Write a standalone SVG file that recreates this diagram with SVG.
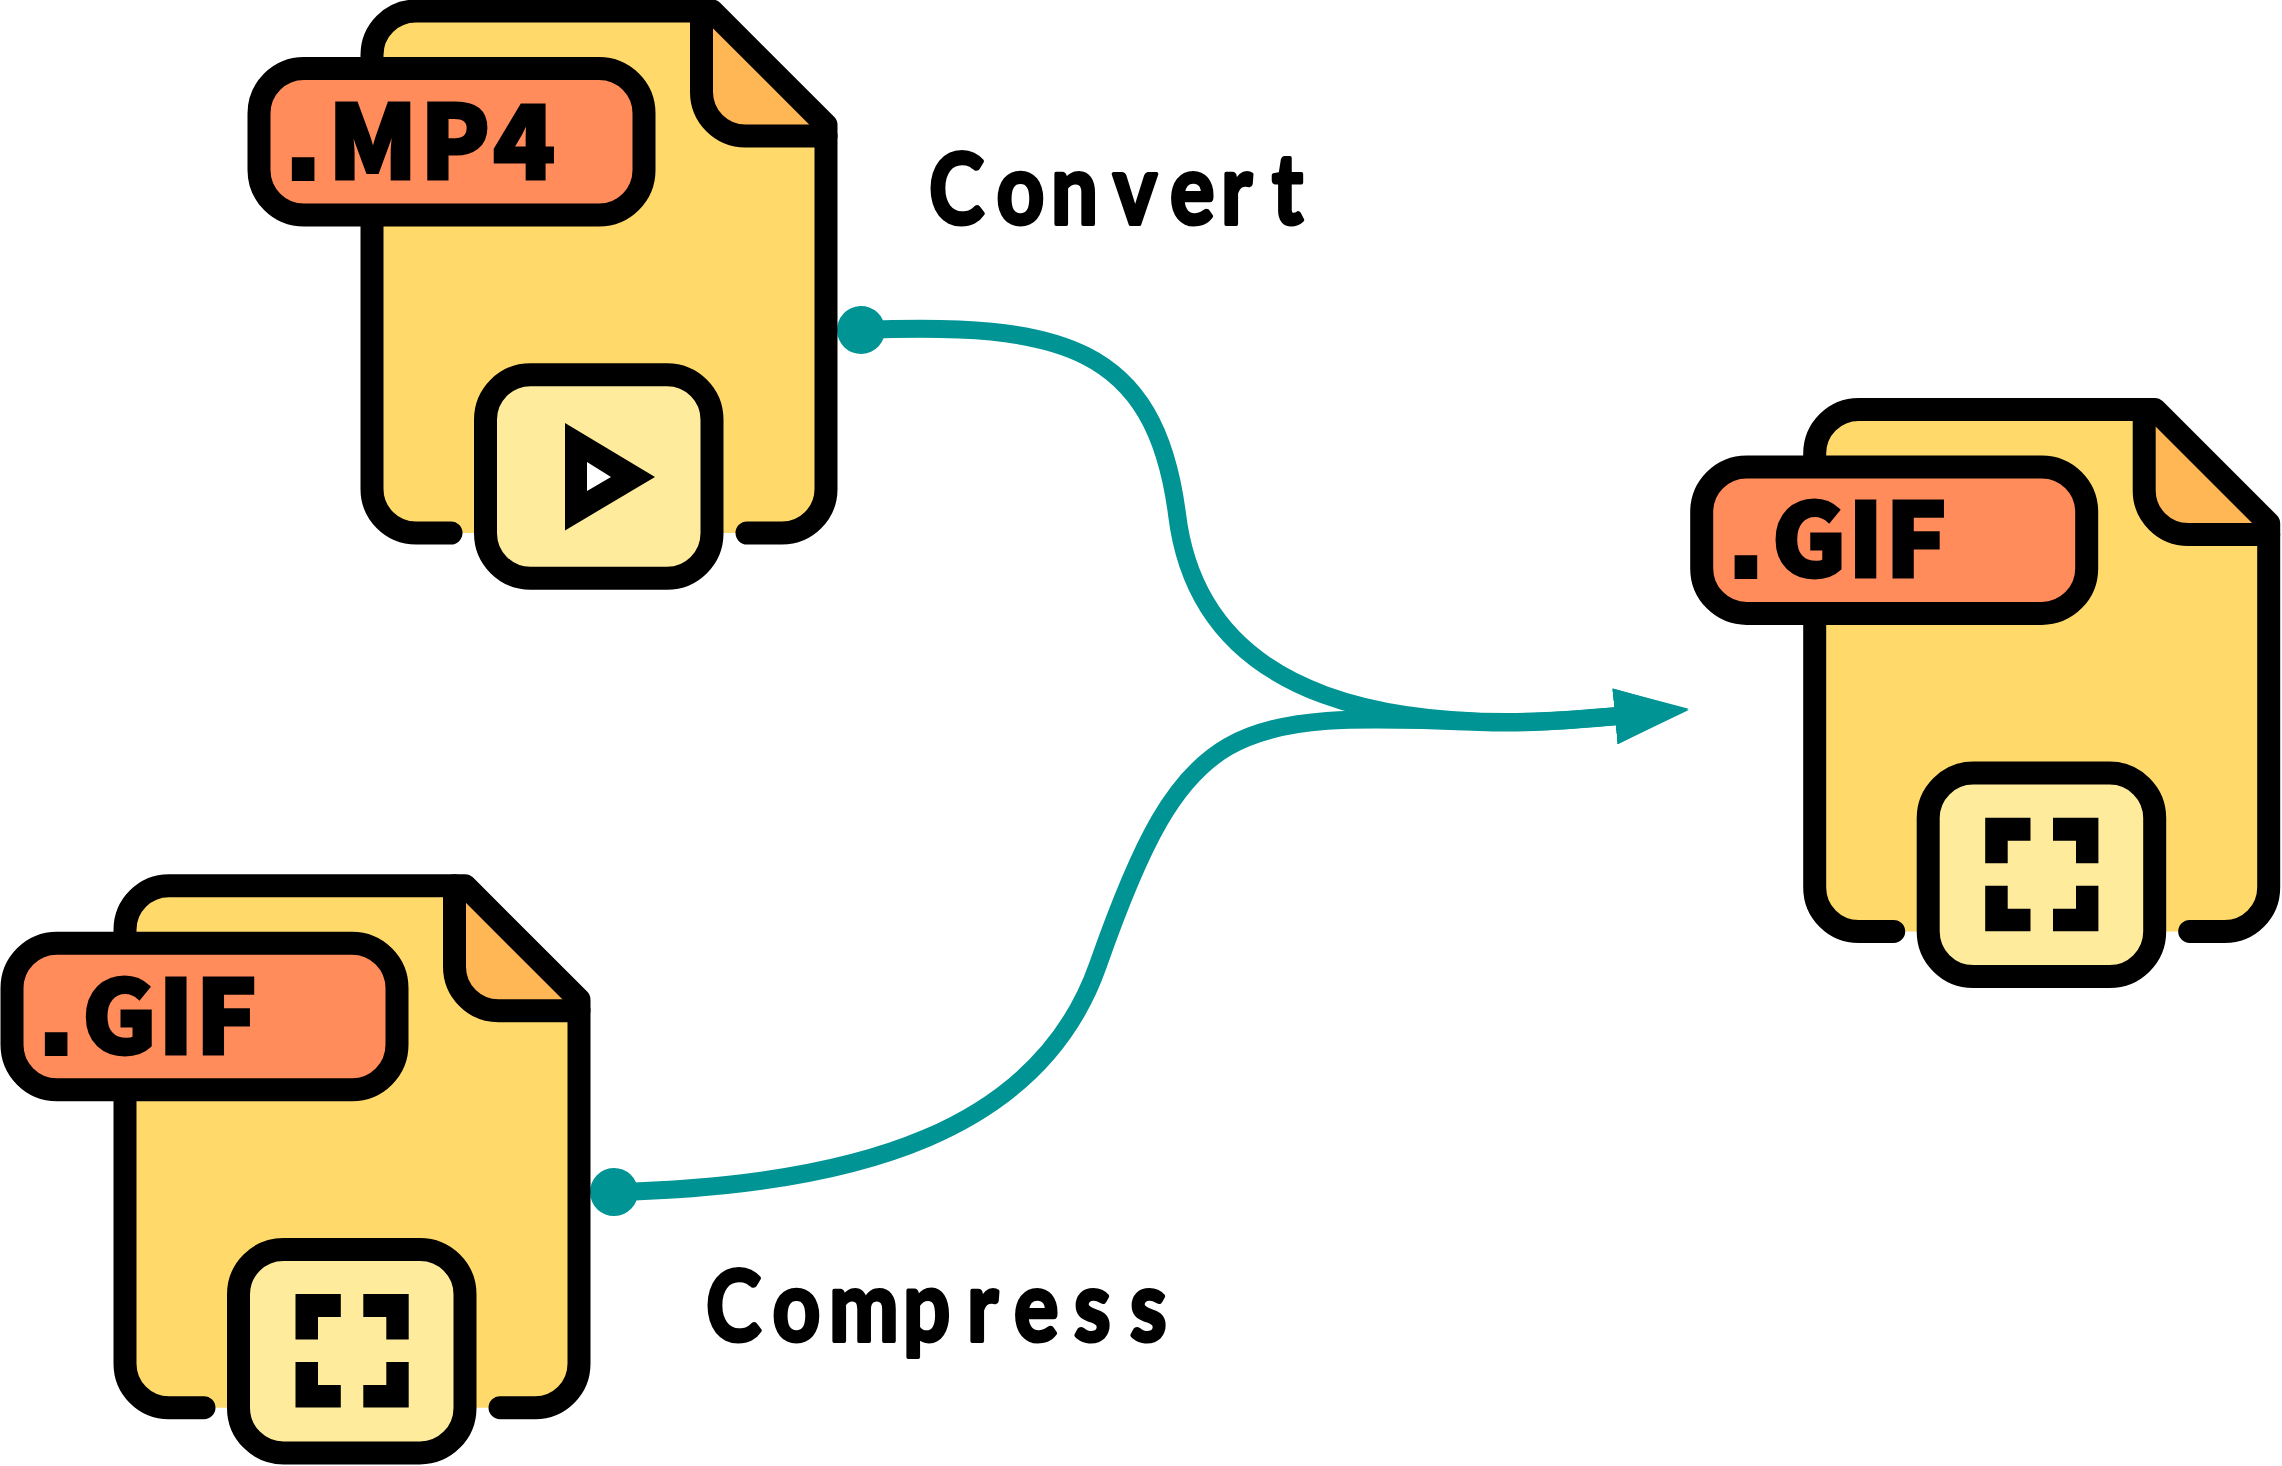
<svg xmlns="http://www.w3.org/2000/svg" xmlns:xlink="http://www.w3.org/1999/xlink" width="2282" height="1466" viewBox="0 0 2282 1466">
<style>
.body{fill:#FFDA6B}
.fold{fill:#FFB655}
.ln{fill:none;stroke:#000;stroke-width:23;stroke-linecap:round;stroke-linejoin:round}
.ext{font-family:"Noto Sans CJK SC","Noto Sans",sans-serif;font-weight:900;font-size:102px;fill:#000;stroke:#000;stroke-width:3}
.pt{font-family:"Liberation Sans",Arial,sans-serif;font-weight:700;font-size:160px;stroke:none}
.cap{font-family:"Lato","Noto Sans",sans-serif;font-weight:700;font-size:98px;fill:#000;stroke:#000;stroke-width:4;stroke-linejoin:round}
.conn{fill:none;stroke:#019494;stroke-width:18}
</style>
<defs>
<marker id="dot" markerUnits="userSpaceOnUse" markerWidth="50" markerHeight="50" refX="25" refY="25" orient="auto"><circle cx="25" cy="25" r="24" fill="#019494"/></marker>
<marker id="arrow" markerUnits="userSpaceOnUse" markerWidth="76" markerHeight="58" refX="3" refY="29" orient="auto"><polygon points="0,1 74,29 0,57" fill="#019494"/></marker>
<g id="file-base">
<path class="body" d="M451 533H416A44 44 0 0 1 372 489V55A44 44 0 0 1 416 11H712L826 125V489A44 44 0 0 1 782 533H747Z"/>
<path class="fold" d="M701.5 11V92A44 44 0 0 0 745.5 136H826L712 11Z"/>
<path class="ln" d="M451 533H416A44 44 0 0 1 372 489V55A44 44 0 0 1 416 11H712L826 125V489A44 44 0 0 1 782 533H747"/>
<path class="ln" d="M701.5 11V92A44 44 0 0 0 745.5 136H826"/>
<rect class="ln" style="fill:#FF8C5A" x="259" y="68.5" width="385" height="146.5" rx="45"/>
<rect class="ln" style="fill:#FFEB9C" x="485.5" y="374.7" width="226.5" height="203.5" rx="45"/>
</g>
<g id="expand">
<path d="M542.5 419.4H587.8V442.4H565V464.9H542.5Z"/>
<path d="M610.3 419.4H655.7V464.9H633.3V442.4H610.3Z"/>
<path d="M542.5 487.4H565V510.4H587.8V532.9H542.5Z"/>
<path d="M633.3 487.4H655.7V532.9H610.3V510.4H633.3Z"/>
</g>
</defs>
<g id="connectors">
<path class="conn" marker-start="url(#dot)" marker-end="url(#arrow)" d="M861 330C1060 322 1155 345 1177 514C1200 705 1400 738 1618 716"/>
<path class="conn" marker-start="url(#dot)" marker-end="url(#arrow)" d="M614 1192C860 1186 1040 1130 1098 965C1185 717 1230 712 1480 722C1530 724 1570 720 1618 716"/>
</g>
<g id="file-mp4">
<use xlink:href="#file-base" href="#file-base"/>
<text class="ext" y="179"><tspan class="pt" x="281" y="181">.</tspan><tspan x="328 420 493" y="179">MP4</tspan></text>
<path d="M565 423L655 477L565 530.4Z"/>
<path fill="#fff" d="M587 462V491L611 477Z"/>
</g>
<g id="file-gif-source" transform="translate(-247 874.7)">
<use xlink:href="#file-base" href="#file-base"/>
<text class="ext" y="179"><tspan class="pt" x="281" y="181">.</tspan><tspan x="329 405 442.5" y="179">GIF</tspan></text>
<use xlink:href="#expand" href="#expand"/>
</g>
<g id="file-gif-target" transform="translate(1442.7 398.4)">
<use xlink:href="#file-base" href="#file-base"/>
<text class="ext" y="179"><tspan class="pt" x="281" y="181">.</tspan><tspan x="329 405 442.5" y="179">GIF</tspan></text>
<use xlink:href="#expand" href="#expand"/>
</g>
<g id="label-convert"><text class="cap" transform="scale(.85 1)" x="1093 1172.4 1236.5 1309.4 1376.5 1436.5 1496.5" y="224">Convert</text></g>
<g id="label-compress"><text class="cap" transform="scale(.85 1)" x="830.6 908.8 975.3 1062.4 1137.6 1192.9 1263.5 1329.4" y="1341">Compress</text></g>
</svg>
